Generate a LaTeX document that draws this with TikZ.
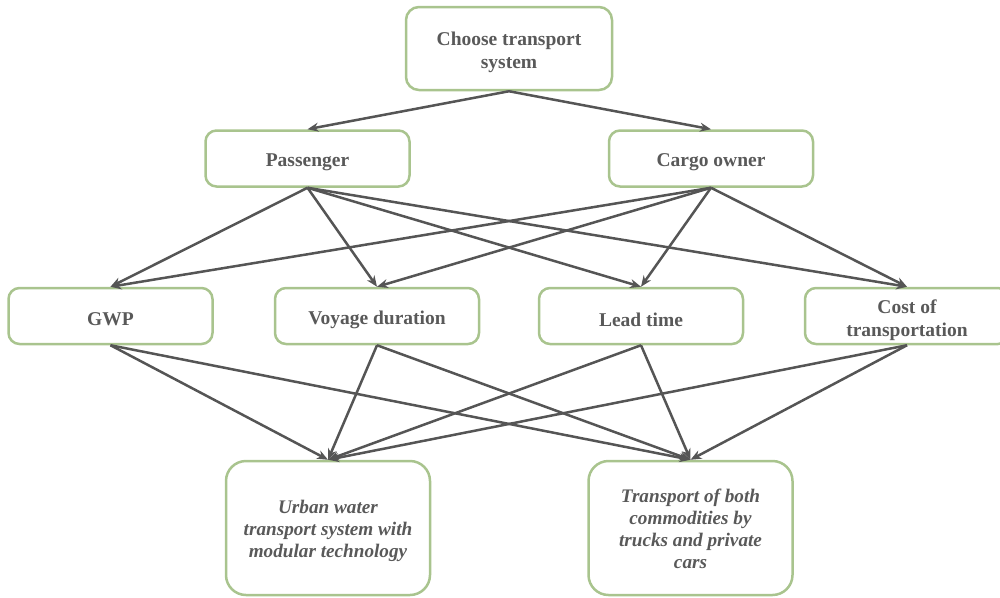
\documentclass[tikz,border=0pt]{standalone}
\usepackage{fontspec}
\setmainfont{Liberation Serif}
\usetikzlibrary{arrows.meta}
\definecolor{boxgreen}{RGB}{169,196,142}
\definecolor{txtgray}{RGB}{89,89,89}
\definecolor{arrgray}{RGB}{85,85,85}
\begin{document}
\begin{tikzpicture}[x=1pt,y=-1pt,
  box/.style={draw=boxgreen, line width=2.5pt, rounded corners=11pt, fill=white,
    minimum width=204pt, minimum height=56pt, inner sep=0pt},
  bigbox/.style={box, minimum height=134pt, rounded corners=20pt},
  lbl/.style={align=center, text=txtgray, inner sep=0pt, yshift=-3.5pt,
    font=\fontsize{19.5}{23}\selectfont\bfseries},
  ilbl/.style={lbl, yshift=1pt, font=\fontsize{19.2}{22}\selectfont\bfseries\itshape},
  arr/.style={draw=arrgray, line width=2.5pt, -{Stealth[length=11pt,width=9pt]}}]
\useasboundingbox (0,0) rectangle (1000,597);
\clip (0,0) rectangle (1000,597);
\node[box, minimum height=83pt, minimum width=206pt, rounded corners=13pt,
  label={[lbl]center:{Choose transport\\system}}] (top) at (509,48.5) {};
\node[box, label={[lbl]center:Passenger}] (pass) at (307.5,158.5) {};
\node[box, label={[lbl]center:Cargo owner}] (cargo) at (711,158.5) {};
\node[box, label={[lbl]center:GWP}] (gwp) at (110.5,316) {};
\node[box, label={[lbl]center:Voyage duration}] (voy) at (377,316) {};
\node[box, label={[lbl]center:Lead time}] (lead) at (641,316) {};
\node[box, label={[lbl, yshift=-1pt]center:{Cost of\\transportation}}] (cost) at (907,316) {};
\node[bigbox, label={[ilbl]center:{Urban water\\transport system with\\modular technology}}] (urban) at (328,528) {};
\node[bigbox, label={[ilbl, yshift=1.5pt]center:{Transport of both\\commodities by\\trucks and private\\cars}}] (trans) at (690.5,528) {};
\draw[arr] (top.south) -- (pass.north);
\draw[arr] (top.south) -- (cargo.north);
\foreach \s in {pass,cargo}{
  \foreach \t in {gwp,voy,lead,cost}{
    \draw[arr] (\s.south) -- (\t.north);
  }
}
\foreach \s in {gwp,voy,lead,cost}{
  \foreach \t in {urban,trans}{
    \draw[arr] (\s.south) -- (\t.north);
  }
}
\end{tikzpicture}
\end{document}
